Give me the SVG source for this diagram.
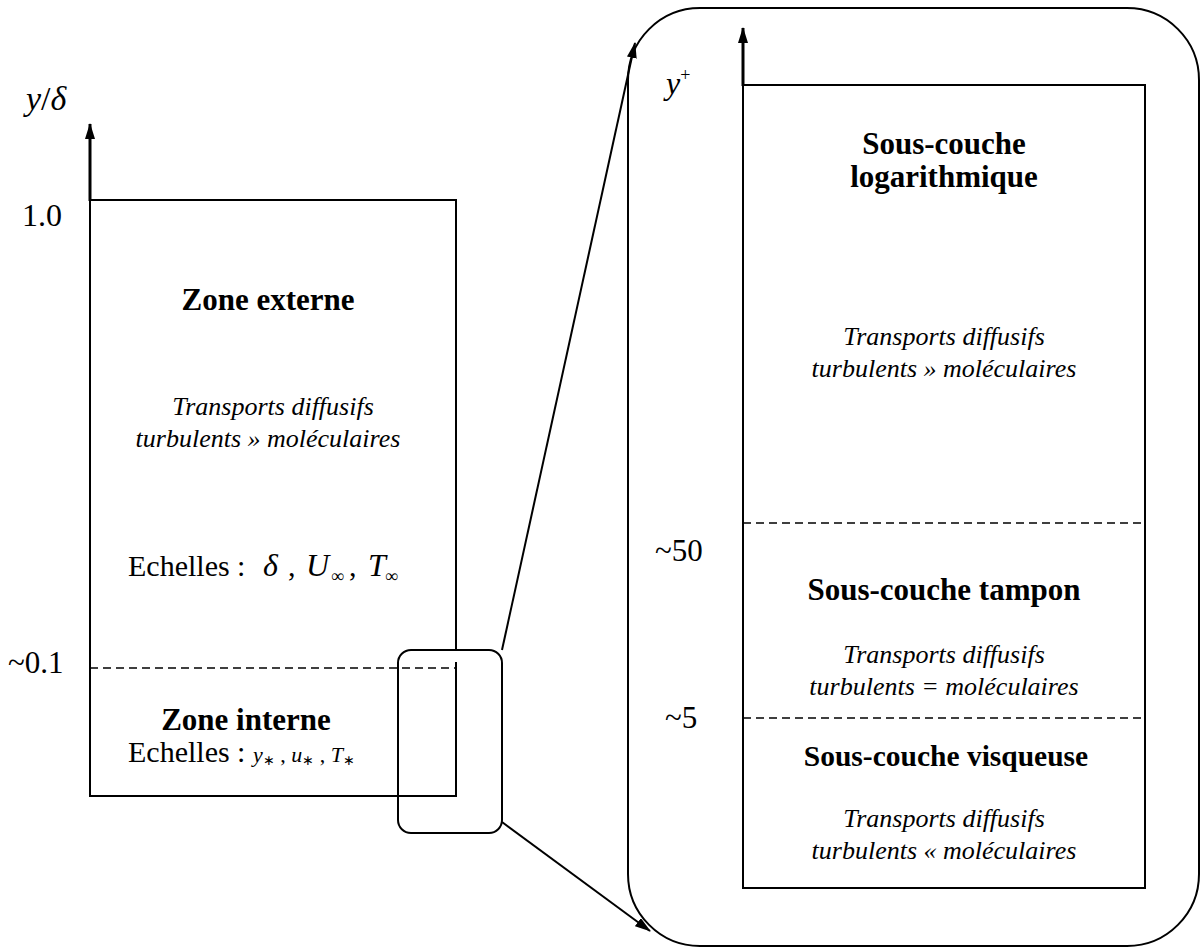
<svg xmlns="http://www.w3.org/2000/svg" width="1202" height="949" viewBox="0 0 1202 949">
<style>
.ln{fill:none;stroke:#000;stroke-width:2}
.ax{fill:none;stroke:#000;stroke-width:3}
.da{fill:none;stroke:#000;stroke-width:1.6;stroke-dasharray:8 5}
.t{font-family:"Liberation Serif",serif;fill:#000}
.r{font-size:30px}
.b{font-size:31px;font-weight:bold}
.bs{font-size:29.5px;font-weight:bold}
.i{font-size:26px;font-style:italic}
.m{font-style:italic}
.c{text-anchor:middle}
</style>
<defs>
<marker id="ah" viewBox="0 0 16 10" refX="15" refY="5" markerWidth="16" markerHeight="10" markerUnits="userSpaceOnUse" orient="auto">
<path d="M0,0 L16,5 L0,10 Z" fill="#000"/>
</marker>
</defs>
<rect width="1202" height="949" fill="#fff"/>

<g id="left-panel">
<line class="ax" x1="90" y1="201" x2="90" y2="124" marker-end="url(#ah)"/>
<path class="ln" d="M90,200 H456 V649 M456,662 V796 H90 V200"/>
<line class="da" x1="90" y1="668" x2="456" y2="668"/>
<text class="t" font-size="34" x="26" y="110"><tspan class="m">y</tspan>/<tspan class="m">δ</tspan></text>
<text class="t" font-size="32" x="22" y="226">1.0</text>
<text class="t" font-size="31" x="8" y="673">~0.1</text>
</g>

<g id="zone-externe">
<text class="t b c" x="268" y="310">Zone externe</text>
<text class="t i c" x="273" y="415">Transports diffusifs</text>
<text class="t i c" x="268" y="447">turbulents » moléculaires</text>
<text class="t r" y="576"><tspan x="128">Echelles :</tspan><tspan class="m" font-size="32" x="263">δ</tspan><tspan x="288">,</tspan><tspan class="m" font-size="32" x="306">U</tspan><tspan font-size="18" x="331" dy="6">∞</tspan><tspan x="349" dy="-6">,</tspan><tspan class="m" font-size="32" x="368">T</tspan><tspan font-size="18" x="385" dy="6">∞</tspan></text>
</g>

<g id="zone-interne">
<text class="t b c" x="246" y="730">Zone interne</text>
<text class="t r" x="128" y="762">Echelles : <tspan class="m" font-size="22">y</tspan><tspan font-size="14" dy="3">∗</tspan><tspan font-size="22" dy="-3"> , </tspan><tspan class="m" font-size="22">u</tspan><tspan font-size="14" dy="3">∗</tspan><tspan font-size="22" dy="-3"> , </tspan><tspan class="m" font-size="22">T</tspan><tspan font-size="14" dy="3">∗</tspan></text>
</g>

<g id="zoom-window">
<rect class="ln" x="398" y="650" width="104" height="183" rx="13"/>
</g>

<g id="right-panel">
<rect class="ln" x="628" y="8" width="571" height="938" rx="72"/>
<line class="ax" x1="743" y1="86" x2="743" y2="28" marker-end="url(#ah)"/>
<rect class="ln" x="743" y="85" width="402" height="803"/>
<line class="da" x1="743" y1="523" x2="1145" y2="523"/>
<line class="da" x1="743" y1="718" x2="1145" y2="718"/>
<text class="t" font-size="32" x="666" y="94"><tspan class="m">y</tspan><tspan font-size="18" dy="-13">+</tspan></text>
<text class="t" font-size="31" x="655" y="561">~50</text>
<text class="t" font-size="31" x="665" y="728">~5</text>
</g>

<g id="sous-couche-log">
<text class="t b c" x="944" y="154">Sous-couche</text>
<text class="t b c" x="944" y="187">logarithmique</text>
<text class="t i c" x="944" y="345">Transports diffusifs</text>
<text class="t i c" x="944" y="377">turbulents » moléculaires</text>
</g>

<g id="sous-couche-tampon">
<text class="t b c" x="944" y="600">Sous-couche tampon</text>
<text class="t i c" x="944" y="663">Transports diffusifs</text>
<text class="t i c" x="944" y="695">turbulents = moléculaires</text>
</g>

<g id="sous-couche-visqueuse">
<text class="t bs c" x="946" y="766">Sous-couche visqueuse</text>
<text class="t i c" x="944" y="827">Transports diffusifs</text>
<text class="t i c" x="944" y="859">turbulents « moléculaires</text>
</g>

<g id="connectors">
<line class="ln" x1="502" y1="650" x2="635" y2="43" marker-end="url(#ah)"/>
<line class="ln" x1="502" y1="822" x2="650" y2="931" marker-end="url(#ah)"/>
</g>
</svg>
